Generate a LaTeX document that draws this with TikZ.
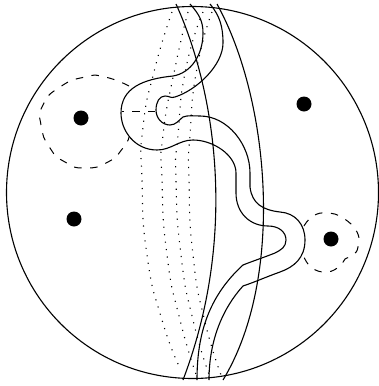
\documentclass[tikz,border=0pt]{standalone}
\begin{document}
\begin{tikzpicture}[x=1pt,y=-1pt,
  solidln/.style={line width=1.1pt,line join=round},
  dashln/.style={line width=1pt,dash pattern=on 7.5pt off 8.5pt},
  dotln/.style={line width=1.1pt,dash pattern=on 1.1pt off 6.4pt},
  disc/.style={fill=black,draw=none}]
\useasboundingbox (0,0) rectangle (378,386);
\draw[solidln] (192.5,192.5) circle (186);
% arcs
\draw[solidln] (176,4) .. controls (213,85) and (240,230) .. (183,380);
\draw[solidln] (217,4) .. controls (270,100) and (285,278) .. (223,380);
% tube
\draw[solidln] (190,4) .. controls +(9,10) and +(0,-12) .. (203,33)
 .. controls +(0,22) and +(18,-3) .. (173,76)
 .. controls +(-30,3) and +(0,-25) .. (121,113)
 .. controls +(0,18) and +(-22,0) .. (157,150)
 .. controls +(14,0) and +(-14,0) .. (193,140)
 .. controls +(20,0) and +(0,-18) .. (236,173)
 .. controls +(0,7) and +(0,-7) .. (236,193)
 .. controls +(0,20) and +(-18,0) .. (268,226)
 .. controls +(11,0) and +(0,-8) .. (286,240)
 .. controls +(0,7) and +(6,-3) .. (275,253)
 .. controls +(-10,4) and +(10,-4) .. (243,265)
 .. controls +(-35,32) and +(0,-45) .. (197,380);
\draw[solidln] (210,4) .. controls +(10,12) and +(0,-16) .. (223,43)
 .. controls +(0,22) and +(22,-7) .. (175,97)
 .. controls +(-5,1.5) and +(5,0) .. (165,96)
 .. controls +(-5.5,0) and +(0,-8) .. (156,110)
 .. controls +(0,8) and +(-8,0) .. (170,125)
 .. controls +(6,0) and +(-4,3) .. (183,117)
 .. controls +(5,-2) and +(-6,0) .. (200,116)
 .. controls +(28,0) and +(0,-28) .. (250,173)
 .. controls +(0,5) and +(0,-5) .. (250,187)
 .. controls +(2,17) and +(-17,-2) .. (280,212)
 .. controls +(15,1) and +(0,-16) .. (305,240)
 .. controls +(0,18) and +(14,-5) .. (280,272)
 .. controls +(-14,5) and +(12,-4) .. (243,286)
 .. controls +(-20,22) and +(0,-40) .. (209,380);
% dotted
\draw[dotln] plot[smooth,tension=1] coordinates {(172,12) (155,68) (143,127) (142,180) (147,255) (162,320) (180,368)};
\draw[dotln] plot[smooth,tension=1] coordinates {(188,12) (175,68) (163,135) (162,180) (167,255) (180,320) (197,377)};
\draw[dotln] plot[smooth,tension=1] coordinates {(203,12) (186,68) (178,135) (176,180) (181,255) (193,320) (210,377)};
\draw[dotln] plot[smooth,tension=1] coordinates {(212,12) (197,68) (190,135) (189,180) (193,255) (205,322) (223,380)};
% dashed loops
\draw[dashln] plot[smooth,tension=1] coordinates {(129,86) (105,77) (85,77) (60,87) (43,105) (41,125) (50,148) (65,162) (85,168) (108,162) (123,148) (129,137)};
\draw[dashln,dash phase=6pt] (122,111) -- (155,111);
\draw[dashln] plot[smooth,tension=0.8] coordinates {(304,226) (313,216) (327,213) (343,218) (357,232) (358,247) (353,255) (345,259) (340,266) (327,272) (312,268) (304,257)};
% discs
\fill[disc] (81,118) circle (7.5);
\fill[disc] (304,104) circle (7.5);
\fill[disc] (74,219) circle (7.5);
\fill[disc] (331,239) circle (7.5);
\end{tikzpicture}
\end{document}
